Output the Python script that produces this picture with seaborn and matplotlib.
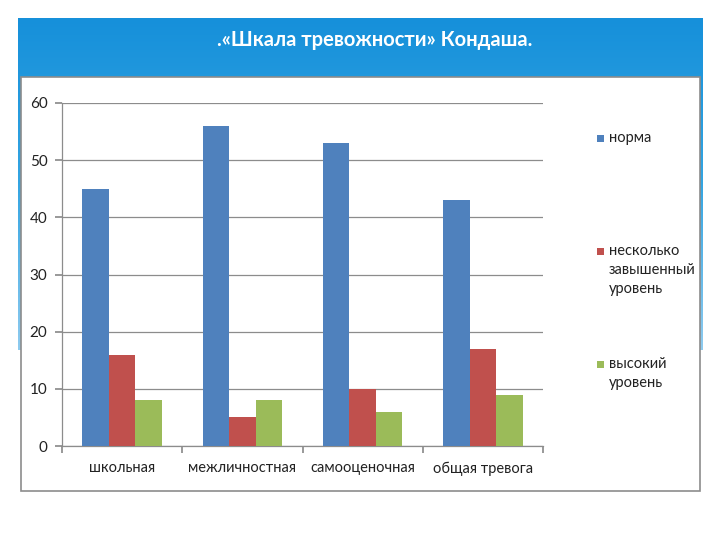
import numpy as np
import pandas as pd
import matplotlib
matplotlib.use("Agg")
import matplotlib.pyplot as plt
from matplotlib.patches import Rectangle
from matplotlib.colors import LinearSegmentedColormap
import seaborn as sns

categories = ["школьная", "межличностная", "самооценочная", "общая тревога"]
series = ["норма", "несколько\nзавышенный\nуровень", "высокий\nуровень"]
norma = [45, 56, 53, 43]
zavysh = [16, 5, 10, 17]
vysokiy = [8, 8, 6, 9]
yticks = [0, 10, 20, 30, 40, 50, 60]
title = ".«Шкала тревожности» Кондаша."

colors = ["#4F81BD", "#C0504D", "#9BBB59"]

df = pd.DataFrame({
    "cat": categories * 3,
    "series": [series[0]] * 4 + [series[1]] * 4 + [series[2]] * 4,
    "val": norma + zavysh + vysokiy,
})

sns.set_theme(style="white")
FONT = ["Lato", "DejaVu Sans"]
plt.rcParams["font.family"] = FONT

W, H = 720, 540
fig = plt.figure(figsize=(7.2, 5.4), dpi=100)

def fx(x):
    return x / W

def fy(y):
    return 1 - y / H

# blue header band with gradient
bg = fig.add_axes([fx(18), fy(350), fx(703 - 18), (350 - 18) / H])
bg.set_axis_off()
grad = np.linspace(0, 1, 256).reshape(-1, 1)
cmap = LinearSegmentedColormap.from_list("hdr", ["#1690DA", "#34A5E2", "#8FCBEF"])
bg.imshow(grad, aspect="auto", cmap=cmap, extent=[0, 1, 0, 1], origin="upper")
bg.set_xlim(0, 1)
bg.set_ylim(0, 1)

# white panel with grey border
fig.patches.append(Rectangle((fx(21), fy(491)), fx(700 - 21), (491 - 77) / H,
                             transform=fig.transFigure, facecolor="white",
                             edgecolor="#8C8C8C", linewidth=1.2, zorder=2))

fig.text(fx(375), fy(40), title, ha="center", va="center", color="white",
         fontsize=14.5, fontweight="bold", zorder=5)

ax = fig.add_axes([fx(62), fy(446), fx(543 - 62), (446 - 103) / H], zorder=3)
ax.patch.set_alpha(0)
sns.barplot(data=df, x="cat", y="val", hue="series", palette=colors,
            width=0.66, saturation=1, ax=ax, legend=False, zorder=3,
            errorbar=None, linewidth=0)
ax.set_ylim(0, 60)
ax.set_xlim(-0.5, 3.5)
ax.set_yticks(yticks)
ax.set_yticklabels([str(t) for t in yticks], fontsize=11, color="#222222")
ax.yaxis.grid(True, color="#8C8C8C", linewidth=0.9)
ax.set_axisbelow(True)
ax.set_xlabel("")
ax.set_ylabel("")
for s in ["top", "right"]:
    ax.spines[s].set_visible(False)
for s in ["left", "bottom"]:
    ax.spines[s].set_color("#8C8C8C")
    ax.spines[s].set_linewidth(0.9)
ax.tick_params(axis="y", left=True, length=5, color="#8C8C8C", pad=5.5)
ax.set_xticks([-0.5, 0.5, 1.5, 2.5, 3.5])
ax.set_xticklabels([])
ax.tick_params(axis="x", which="major", bottom=True, length=5, color="#8C8C8C")
ax.set_xticks(range(len(categories)), minor=True)
ax.set_xticklabels(categories, minor=True, fontsize=10.5, color="#222222")
ax.tick_params(axis="x", which="minor", bottom=False, length=0, pad=11)

# legend drawn manually
leg_y = [139, 252, 365]
for lab, c, y in zip(series, colors, leg_y):
    fig.patches.append(Rectangle((fx(597), fy(y + 3)), fx(7), 7 / H,
                                 transform=fig.transFigure, facecolor=c,
                                 edgecolor="none", zorder=4))
    fig.text(fx(609), fy(y - 8), lab, ha="left", va="top", fontsize=10.5,
             color="#222222", linespacing=1.45, zorder=5)

fig.savefig("out.png", dpi=100)
